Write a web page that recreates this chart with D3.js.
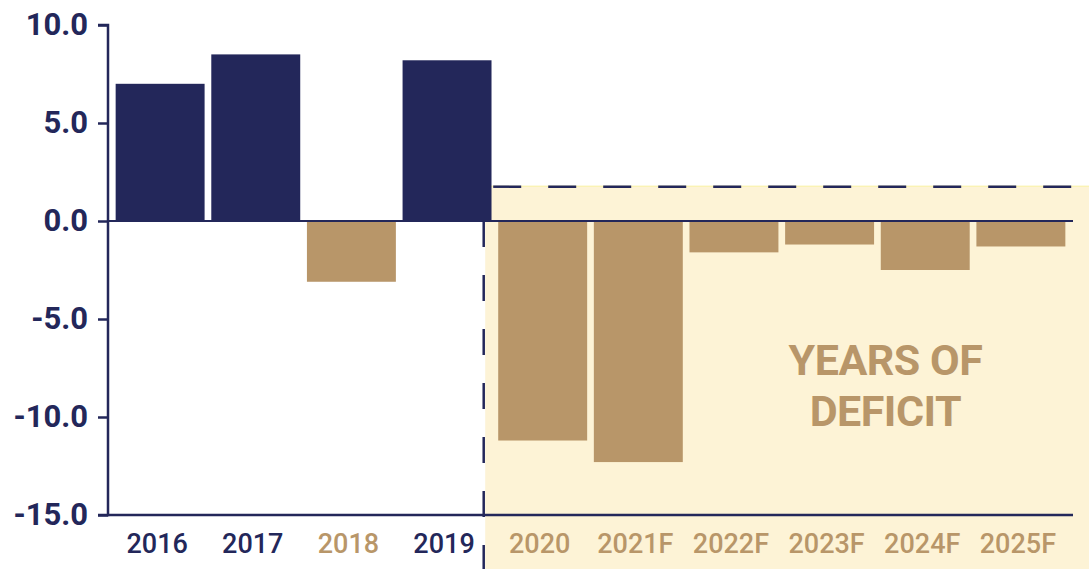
<!DOCTYPE html>
<html>
<head>
<meta charset="utf-8">
<script src="https://cdn.jsdelivr.net/npm/d3@7"></script>
<style>
  body { margin: 0; background: #fff; }
  text { font-family: Roboto, "Noto Sans", sans-serif; }
</style>
</head>
<body>
<div class="chart"></div>
<script>
var years = ["2016", "2017", "2018", "2019", "2020", "2021F", "2022F", "2023F", "2024F", "2025F"];
var balance = [7.0, 8.5, -3.1, 8.2, -11.2, -12.3, -1.6, -1.2, -2.5, -1.3];
var yTicks = [10, 5, 0, -5, -10, -15];
var deficitLabel = ["YEARS OF", "DEFICIT"];
var deficitLevel = 1.75;

var navy = "#23275a", tan = "#b89669", cream = "#fdf3d6";

var width = 1089, height = 569;
var margin = {left: 108, right: 16, top: 25, bottom: 54};

var svg = d3.select("body div.chart").append("svg")
            .attr("width", width).attr("height", height);

var x = d3.scaleBand()
          .domain(years)
          .range([margin.left, width - margin.right])
          .paddingInner(0.07)
          .paddingOuter(0.08);

var y = d3.scaleLinear()
          .domain([-15, 10])
          .range([height - margin.bottom, margin.top]);

// shaded forecast / deficit area
var shadeX = x("2020") - 13;
svg.append("rect")
    .attr("x", shadeX)
    .attr("y", y(deficitLevel))
    .attr("width", width - shadeX)
    .attr("height", height - y(deficitLevel))
    .attr("fill", cream);

svg.append("line")
    .attr("x1", shadeX).attr("x2", width)
    .attr("y1", y(deficitLevel) - 0.5).attr("y2", y(deficitLevel) - 0.5)
    .attr("stroke", "#f8ef9a").attr("stroke-width", 1);

svg.append("line")
    .attr("x1", shadeX).attr("x2", width)
    .attr("y1", y(deficitLevel)).attr("y2", y(deficitLevel))
    .attr("stroke", navy).attr("stroke-width", 2.5)
    .attr("stroke-dasharray", "28 27")
    .attr("stroke-dashoffset", -8);

svg.append("line")
    .attr("x1", shadeX - 1.5).attr("x2", shadeX - 1.5)
    .attr("y1", y(0)).attr("y2", height)
    .attr("stroke", navy).attr("stroke-width", 2.5)
    .attr("stroke-dasharray", "26 28");

// bars
svg.selectAll("rect.bar")
    .data(balance)
    .enter().append("rect")
        .attr("class", "bar")
        .attr("x", function(d, i) { return x(years[i]); })
        .attr("y", function(d) { return y(Math.max(0, d)); })
        .attr("width", x.bandwidth())
        .attr("height", function(d) { return Math.abs(y(d) - y(0)); })
        .attr("fill", function(d) { return d >= 0 ? navy : tan; });

// zero line
svg.append("line")
    .attr("x1", margin.left).attr("x2", width - margin.right)
    .attr("y1", y(0)).attr("y2", y(0))
    .attr("stroke", navy).attr("stroke-width", 2);

// y axis
var yAxis = svg.append("g")
    .attr("transform", "translate(" + margin.left + ",0)")
    .call(d3.axisLeft(y).tickValues(yTicks).tickSize(10).tickPadding(10)
            .tickFormat(d3.format(".1f")));
yAxis.select(".domain").attr("stroke", navy).attr("stroke-width", 2.5)
    .attr("d", "M-10," + y(10) + "H0V" + y(-15) + "H-10");
yAxis.selectAll(".tick line").attr("stroke", navy).attr("stroke-width", 2.5);
yAxis.selectAll(".tick text")
    .attr("fill", navy)
    .style("font-size", "31px")
    .style("font-weight", "700")
    .text(function(d) { return d3.format(".1f")(d).replace("−", "-"); });

// x axis
var xAxis = svg.append("g")
    .attr("transform", "translate(0," + y(-15) + ")")
    .call(d3.axisBottom(x).tickSize(0).tickPadding(19));
xAxis.select(".domain").attr("stroke", navy).attr("stroke-width", 2.5)
    .attr("d", "M" + margin.left + ",0H" + (width - margin.right));
xAxis.selectAll(".tick text")
    .attr("fill", function(d, i) { return balance[i] >= 0 ? navy : tan; })
    .attr("dx", -3)
    .style("font-size", "27px")
    .style("font-weight", "500");

// annotation
var labelX = (x("2023F") + x("2024F") + x.bandwidth()) / 2 + 8;
svg.append("text")
    .attr("x", labelX)
    .attr("y", y(-7.85))
    .attr("text-anchor", "middle")
    .attr("fill", tan)
    .style("font-size", "43px")
    .style("font-weight", "700")
    .style("letter-spacing", "-0.5px")
    .selectAll("tspan")
    .data(deficitLabel)
    .enter().append("tspan")
        .attr("x", labelX)
        .attr("dy", function(d, i) { return i ? 51 : 0; })
        .text(function(d) { return d; });
</script>
</body>
</html>
